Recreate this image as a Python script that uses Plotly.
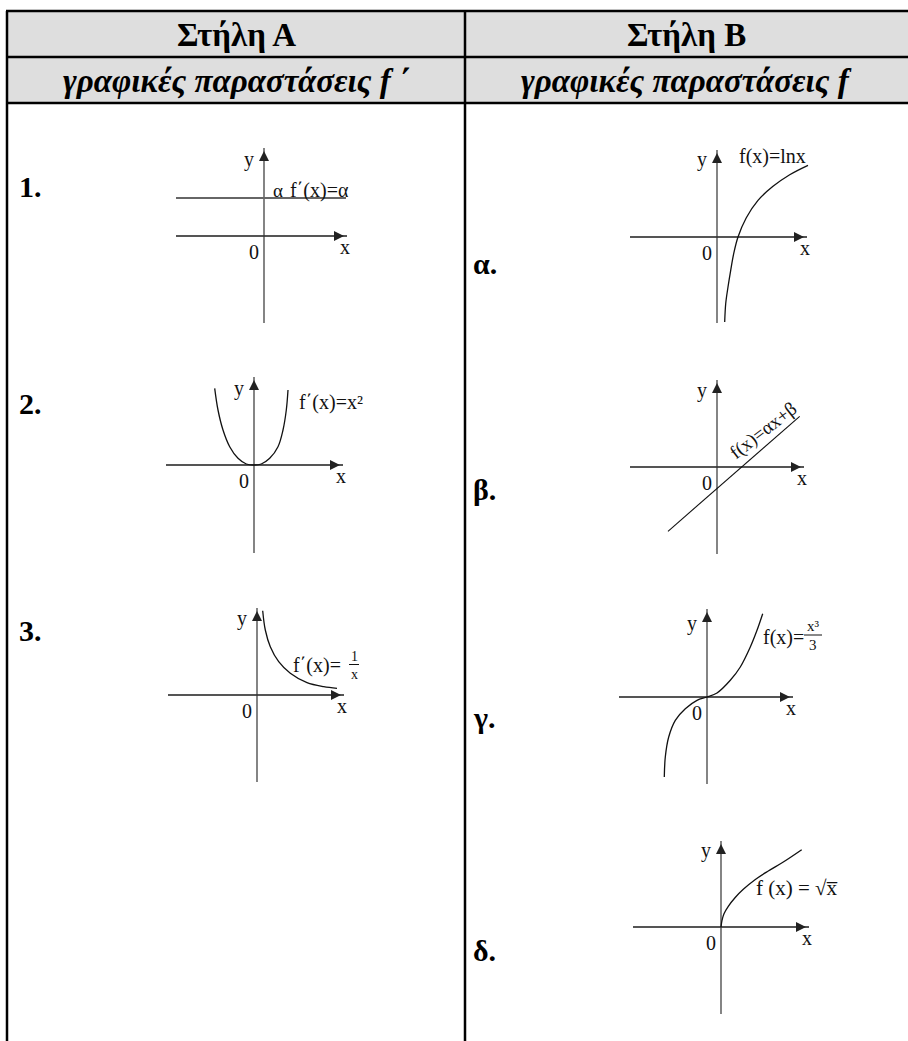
import plotly.graph_objects as go

W, H = 908, 1041

# ---- curve data, in each small graph's own units (origin = 0, y up) ----
# 1. f'(x) = a  (horizontal line)
const_x = [-88, 82]
const_y = [38, 38]

# 2. f'(x) = x^2
parab_x = [-39.3, -36, -31, -24.3, -16, -7.7, 0, 7.3, 15.7, 24, 29, 32.3, 34]
parab_y = [76.7, 55, 35, 18.3, 6.7, 1, 0, 1, 6.7, 18.3, 35, 55, 75]

# 3. f'(x) = 1/x
hyper_x = [5.7, 8.3, 13.3, 21.7, 33.3, 50, 66.7, 80]
hyper_y = [84.3, 65, 48.3, 33.3, 21.7, 12.3, 8.3, 6.7]

# a. f(x) = ln x
ln_x = [7.7, 8.7, 11, 13.7, 16.7, 21, 29.3, 41, 56, 72.7, 91]
ln_y = [-85, -66.7, -50, -33.3, -16.7, 0, 19.3, 36.7, 50.7, 62.3, 71.7]

# b. f(x) = ax + b
lin_x = [-49, 82.7]
lin_y = [-64.3, 50.7]

# c. f(x) = x^3 / 3
cube_x = [-42.7, -41.7, -38.3, -31.7, -21.7, -10, 0, 10, 23.3, 33.3, 43.3, 50, 55.7]
cube_y = [-80, -60, -40, -23.3, -11.7, -3.3, 0, 4, 16.7, 30, 50, 66.7, 83.3]

# d. f(x) = sqrt(x)
sqrt_x = [0, 1, 3, 7.3, 14, 22.3, 34, 47.3, 62.3, 80.7]
sqrt_y = [0, 6.7, 13.3, 20.7, 29.3, 37.7, 47.3, 56, 65, 77.3]

# axis extents of every graph: (x left, x right, y bottom, y top)
axis_spans = {
    "g1": (-88, 83, -87, 88),
    "g2": (-88, 89, -88, 88),
    "g3": (-89, 87, -87, 87),
    "ga": (-87, 90, -86, 87),
    "gb": (-87, 87, -87, 87),
    "gc": (-88, 86, -87, 88),
    "gd": (-88, 88, -87, 86),
}

curves = {
    "g1": (const_x, const_y, "#666666", 2.0, "linear"),
    "g2": (parab_x, parab_y, "#111111", 1.3, "spline"),
    "g3": (hyper_x, hyper_y, "#111111", 1.3, "spline"),
    "ga": (ln_x, ln_y, "#111111", 1.3, "spline"),
    "gb": (lin_x, lin_y, "#111111", 1.1, "linear"),
    "gc": (cube_x, cube_y, "#111111", 1.3, "spline"),
    "gd": (sqrt_x, sqrt_y, "#111111", 1.3, "spline"),
}

# where each graph's origin sits on the page (pixels from top-left)
origins = {
    "g1": (264, 236), "g2": (254, 465), "g3": (257, 695),
    "ga": (717, 237), "gb": (717, 467), "gc": (707, 697), "gd": (721, 927),
}

SERIF = "Liberation Serif, Times New Roman, serif"


def px(x):
    return x / W


def py(y):
    return 1 - y / H


fig = go.Figure()
annotations = []
shapes = []

half_w, half_h = 120, 110
for i, key in enumerate(origins, start=1):
    ox, oy = origins[key]
    xa = "xaxis" if i == 1 else f"xaxis{i}"
    ya = "yaxis" if i == 1 else f"yaxis{i}"
    xr = "x" if i == 1 else f"x{i}"
    yr = "y" if i == 1 else f"y{i}"
    fig.layout[xa] = dict(domain=[px(ox - half_w), px(ox + half_w)], range=[-half_w, half_w],
                          visible=False, anchor=yr, fixedrange=True)
    fig.layout[ya] = dict(domain=[py(oy + half_h), py(oy - half_h)], range=[-half_h, half_h],
                          visible=False, anchor=xr, fixedrange=True)

    x0, x1, y0, y1 = axis_spans[key]
    # x axis (grey, thicker) and y axis (dark, thin)
    fig.add_trace(go.Scatter(x=[x0, x1], y=[0, 0], mode="lines", xaxis=xr, yaxis=yr,
                             line=dict(color="#555555", width=2), hoverinfo="skip"))
    fig.add_trace(go.Scatter(x=[0, 0], y=[y0, y1], mode="lines", xaxis=xr, yaxis=yr,
                             line=dict(color="#333333", width=1.2), hoverinfo="skip"))
    cx, cy, col, lw, shape = curves[key]
    fig.add_trace(go.Scatter(x=cx, y=cy, mode="lines", xaxis=xr, yaxis=yr,
                             line=dict(color=col, width=lw, shape=shape, smoothing=1.0),
                             hoverinfo="skip"))
    # arrow heads
    fig.add_trace(go.Scatter(x=[x1 - 3, 0], y=[0, y1 - 3], mode="markers", xaxis=xr, yaxis=yr,
                             marker=dict(symbol=["arrow-right", "arrow-up"], size=10, color="#222",
                                         line=dict(width=0)),
                             hoverinfo="skip"))

    def lab(text, x, y, xanchor="center", size=20, **kw):
        annotations.append(dict(x=x, y=y, xref=xr, yref=yr, text=text, showarrow=False,
                                xanchor=xanchor, yanchor="middle",
                                font=dict(family=SERIF, size=size, color="#111"), **kw))

    lab("y", -15, 77 if key != "gc" else 74)
    lab("0", -10, -16)
    lab("x", x1 - 2, -11)

    if key == "g1":
        lab("α", 7, 46, "left", 19)
        lab("f΄(x)=α", 24, 46, "left")
    elif key == "g2":
        lab("f΄(x)=x²", 43, 63, "left")
    elif key == "g3":
        lab("f΄(x)=", 34, 30, "left")
        lab("1", 97, 39, size=14)
        lab("x", 97, 21, size=14)
        shapes.append(dict(type="line", xref=xr, yref=yr, x0=92, x1=102, y0=30.5, y1=30.5,
                           line=dict(color="#111", width=1)))
    elif key == "ga":
        lab("f(x)=lnx", 20, 80, "left")
    elif key == "gb":
        lab("f(x)=αx+β", 46, 36, size=19, textangle=-38)
    elif key == "gc":
        lab("f(x)=", 54, 60, "left")
        lab("x³", 106, 71, size=15)
        lab("3", 106, 52, size=15)
        shapes.append(dict(type="line", xref=xr, yref=yr, x0=97, x1=115, y0=62, y1=62,
                           line=dict(color="#111", width=1)))
    elif key == "gd":
        lab("f (x) = √x\u0305", 33, 39, "left", 21)

# ---- table frame ----
TOP, ROW1, ROW2 = 11, 57, 103
LEFT, MID = 7, 465
shapes.append(dict(type="rect", xref="paper", yref="paper", x0=px(LEFT), x1=1.0,
                   y0=py(ROW2), y1=py(TOP), fillcolor="#dedede", line=dict(width=0), layer="below"))
for yy in (TOP, ROW1, ROW2):
    shapes.append(dict(type="line", xref="paper", yref="paper", x0=px(LEFT - 1), x1=1.0,
                       y0=py(yy), y1=py(yy), line=dict(color="black", width=2.5)))
for xx in (LEFT, MID):
    shapes.append(dict(type="line", xref="paper", yref="paper", x0=px(xx), x1=px(xx),
                       y0=py(TOP), y1=0, line=dict(color="black", width=2.5)))

headers = ["<b>Στήλη Α</b>", "<b>Στήλη Β</b>"]
subheaders = ["<b><i>γραφικές παραστάσεις f ΄</i></b>", "<b><i>γραφικές παραστάσεις f</i></b>"]
col_centers = [236, 686]
for txt, sub, cxp in zip(headers, subheaders, col_centers):
    annotations.append(dict(x=px(cxp), y=py((TOP + ROW1) / 2 + 1), xref="paper", yref="paper",
                            text=txt, showarrow=False, xanchor="center", yanchor="middle",
                            font=dict(family=SERIF, size=33, color="black")))
    annotations.append(dict(x=px(cxp), y=py((ROW1 + ROW2) / 2 + 1), xref="paper", yref="paper",
                            text=sub, showarrow=False, xanchor="center", yanchor="middle",
                            font=dict(family=SERIF, size=33, color="black")))

row_labels = ["1.", "2.", "3.", "α.", "β.", "γ.", "δ."]
row_pos = [(17, 186), (17, 403), (17, 630), (471, 263), (471, 490), (471, 717), (471, 950)]
for txt, (lx, ly) in zip(row_labels, row_pos):
    annotations.append(dict(x=px(lx), y=py(ly), xref="paper", yref="paper", text=f"<b>{txt}</b>",
                            showarrow=False, xanchor="left", yanchor="middle",
                            font=dict(family=SERIF, size=30, color="black")))

fig.update_layout(width=W, height=H, margin=dict(l=0, r=0, t=0, b=0),
                  paper_bgcolor="white", plot_bgcolor="rgba(0,0,0,0)",
                  showlegend=False, annotations=annotations, shapes=shapes)

# the page's default 8px body margin would shift the whole figure
fig.write_html("out.html", config={"displayModeBar": False},
               post_script="document.body.style.margin='0px';")
